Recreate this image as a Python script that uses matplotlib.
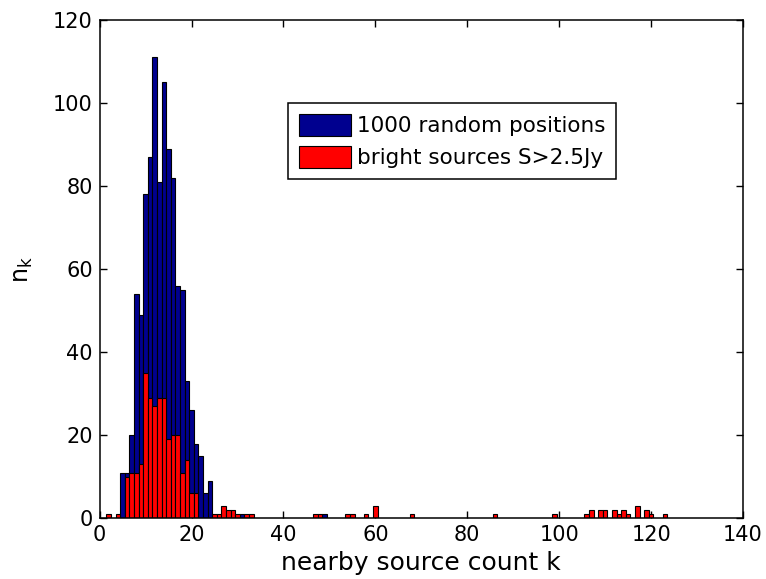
import matplotlib
matplotlib.use("Agg")
import matplotlib.pyplot as plt
from matplotlib.patches import Patch

# Histogram counts n_k for nearby source count k
blue_k = [5, 6, 7, 8, 9, 10, 11, 12, 13, 14, 15, 16, 17, 18, 19, 20, 21, 22, 23, 24, 31, 49]
blue_n = [11, 11, 20, 54, 49, 78, 87, 111, 81, 105, 89, 82, 56, 55, 33, 26, 18, 15, 6, 9, 1, 1]

red_k = [2, 4, 6, 7, 8, 9, 10, 11, 12, 13, 14, 15, 16, 17, 18, 19, 20, 21,
         25, 26, 27, 28, 29, 30, 32, 33, 47, 48, 54, 55, 58, 60, 68, 86, 99,
         106, 107, 109, 110, 112, 113, 114, 115, 117, 119, 120, 123]
red_n = [1, 1, 10, 11, 11, 13, 35, 29, 27, 29, 29, 19, 20, 20, 11, 14, 6, 6,
         1, 1, 3, 2, 2, 1, 1, 1, 1, 1, 1, 1, 1, 3, 1, 1, 1,
         1, 2, 2, 2, 2, 1, 2, 1, 3, 2, 1, 1]

series_labels = ["1000 random positions", "bright sources S>2.5Jy"]
x_ticks = [0, 20, 40, 60, 80, 100, 120, 140]
y_ticks = [0, 20, 40, 60, 80, 100, 120]

navy = "#00008F"
red = "#FF0000"

plt.rcParams["font.family"] = ["DejaVu Sans"]

fig = plt.figure(figsize=(7.66, 5.79), dpi=100)
ax = fig.add_axes([0.130, 0.1047, 0.840, 0.861])

ax.bar(blue_k, blue_n, width=1.0, color=navy, edgecolor="black", linewidth=0.8, zorder=2)
ax.bar(red_k, red_n, width=1.0, color=red, edgecolor="black", linewidth=0.8, zorder=3)

ax.set_xlim(0, 140)
ax.set_ylim(0, 120)
ax.set_xticks(x_ticks)
ax.set_yticks(y_ticks)
ax.tick_params(direction="in", length=5, width=1, labelsize=15,
               top=True, right=True, pad=5)
for s in ax.spines.values():
    s.set_linewidth(1.1)
    s.set_zorder(4)

ax.set_xlabel("nearby source count k", fontsize=18, labelpad=4)
ax.set_ylabel(r"n$_\mathregular{k}$", fontsize=17, labelpad=13)

handles = [Patch(facecolor=navy, edgecolor="black", linewidth=0.8),
           Patch(facecolor=red, edgecolor="black", linewidth=0.8)]
leg = ax.legend(handles, series_labels, loc="upper left",
                bbox_to_anchor=(0.293, 0.833), borderaxespad=0,
                fontsize=15.5, handlelength=2.4, handleheight=1.2,
                handletextpad=0.3, labelspacing=0.45, borderpad=0.5,
                fancybox=False, framealpha=1, edgecolor="black")
leg.get_frame().set_linewidth(1.1)

fig.savefig("out.png", dpi=100)
